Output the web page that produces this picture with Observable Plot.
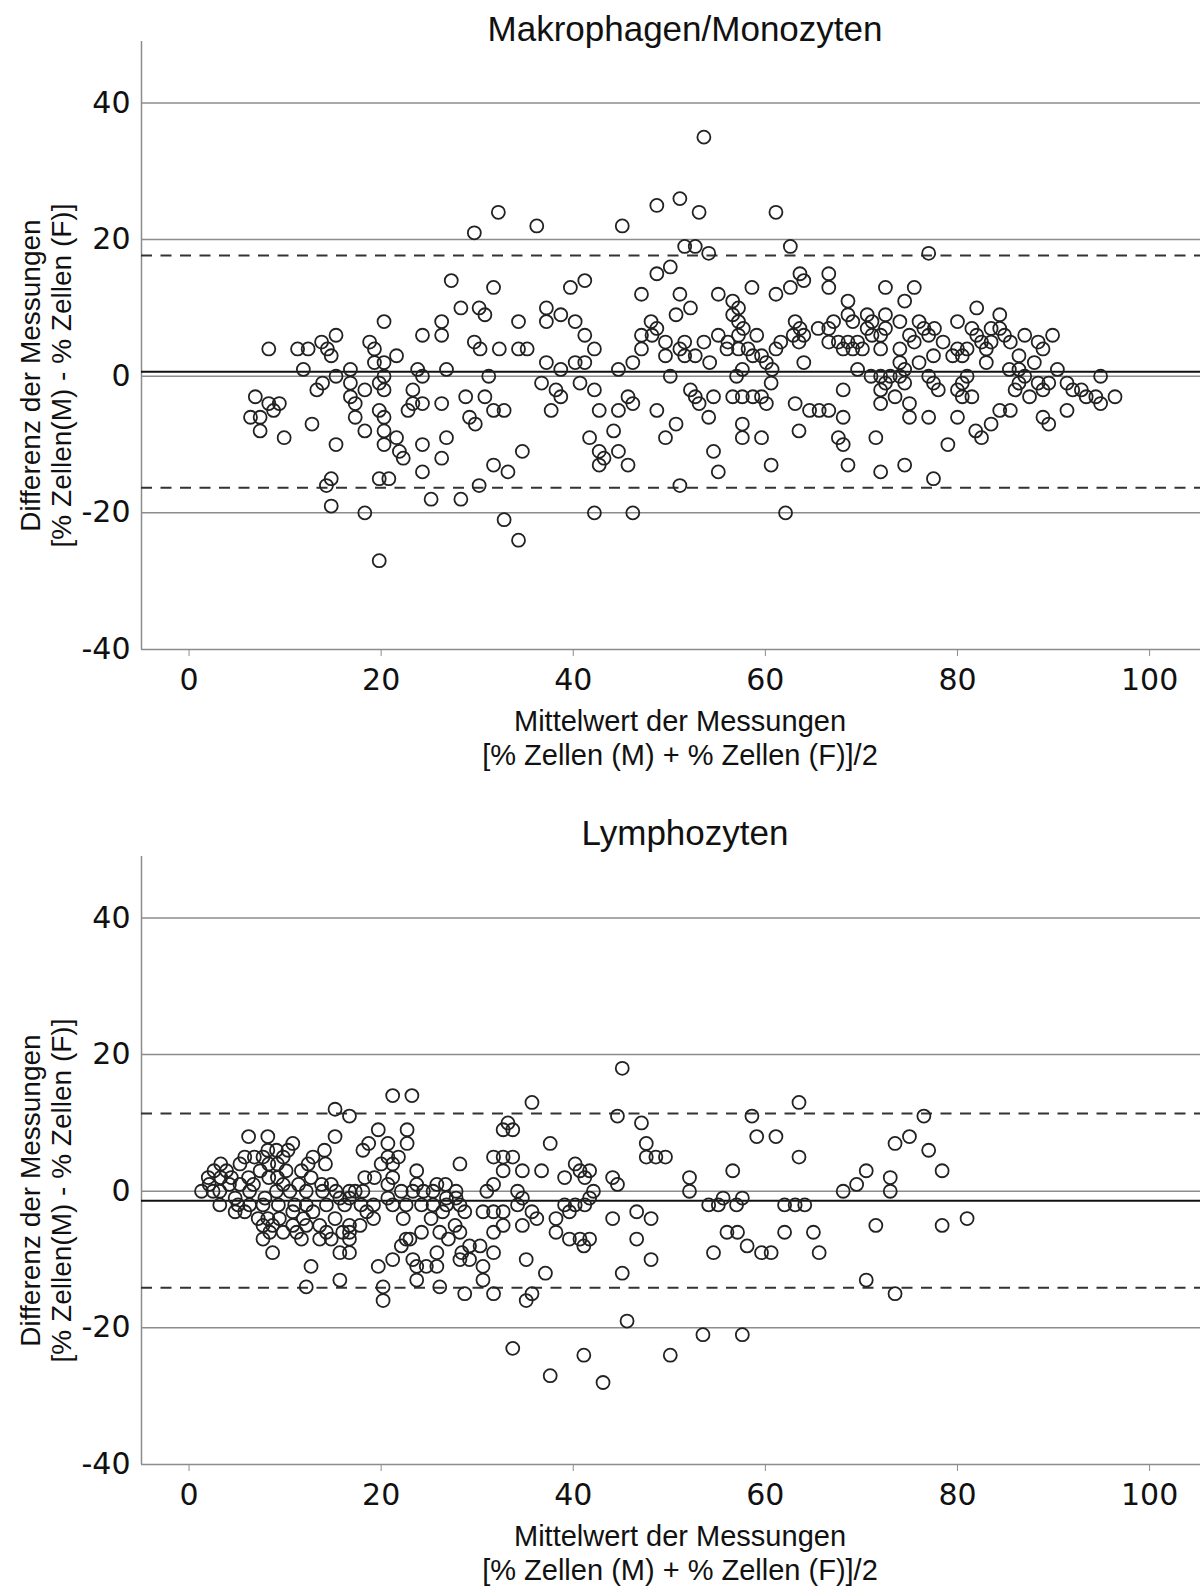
<!DOCTYPE html>
<html><head><meta charset="utf-8">
<script src="https://cdn.jsdelivr.net/npm/d3@7"></script>
<script src="https://cdn.jsdelivr.net/npm/@observablehq/plot@0.6"></script>
<style>
body{margin:0;background:#fff;}
#fig{position:relative;width:1200px;height:1588px;overflow:hidden;font-family:"Liberation Sans",Arial,sans-serif;background:#fff;}
.panel{position:absolute;left:0;width:1200px;}
.title{position:absolute;left:385px;width:600px;text-align:center;font-size:35px;line-height:35px;color:#111;white-space:nowrap;z-index:2;}
</style></head><body>
<div id="fig"></div>
<script>
// ---------- data ----------
const titles = ["Makrophagen/Monozyten", "Lymphozyten"];
const yLabel = "Differenz der Messungen\n[% Zellen(M) - % Zellen (F)]";
const xLabel = "Mittelwert der Messungen\n[% Zellen (M) + % Zellen (F)]/2";
const xTicks = [0, 20, 40, 60, 80, 100];
const yTicks = [-40, -20, 0, 20, 40];
const gridY = [-20, 0, 20, 40];
const xDomain = [-4.95, 105.3];
const yDomain = [-40, 49];

// Makrophagen/Monozyten: [mean, difference]
const makroPoints = [
[8.3,4],[11.3,4],[12.4,4],[11.9,1],[13.8,5],[14.4,4],[14.8,3],[15.3,6],[15.3,0],[13.9,-1],[13.3,-2],[16.8,1],[16.8,-1],[16.8,-3],[17.3,-4],[17.3,-6],[18.3,-2],[18.3,-8],[18.8,5],[19.3,4],[19.3,2],[20.3,8],[20.3,2],[20.3,0],[19.8,-1],[20.3,-2],[19.8,-5],[20.3,-6],[20.3,-8],[20.3,-10],[21.6,3],[21.6,-9],[21.9,-11],[6.9,-3],[8.3,-4],[9.4,-4],[8.8,-5],[6.4,-6],[7.4,-6],[7.4,-8],[9.9,-9],[12.8,-7],[15.3,-10],[14.8,-15],[14.3,-16],[14.8,-19],[18.3,-20],[19.8,-15],[20.8,-15],[19.8,-27],
[32.2,24],[29.7,21],[36.2,22],[27.3,14],[31.7,13],[39.7,13],[41.2,14],[28.3,10],[30.2,10],[30.8,9],[37.2,10],[38.7,9],[37.2,8],[34.3,8],[40.2,8],[26.3,8],[26.3,6],[24.3,6],[41.2,6],[29.7,5],[30.3,4],[32.3,4],[34.3,4],[35.2,4],[37.2,2],[40.2,2],[41.2,2],[38.7,1],[23.8,1],[26.8,1],[24.3,0],[31.2,0],[36.7,-1],[40.7,-1],[23.3,-2],[38.2,-2],[38.7,-3],[23.3,-4],[24.3,-4],[26.3,-4],[28.8,-3],[30.8,-3],[22.8,-5],[31.7,-5],[32.8,-5],[37.7,-5],[29.2,-6],[29.8,-7],[26.8,-9],[24.3,-10],[22.3,-12],[26.3,-12],[34.7,-11],[31.7,-13],[33.2,-14],[24.3,-14],[30.2,-16],[25.2,-18],[28.3,-18],[32.8,-21],[34.3,-24],
[53.6,35],[48.7,25],[51.1,26],[53.1,24],[61.1,24],[45.1,22],[51.6,19],[52.7,19],[54.1,18],[62.6,19],[50.1,16],[48.7,15],[47.1,12],[51.1,12],[55.1,12],[58.6,13],[61.1,12],[62.6,13],[52.2,10],[50.7,9],[56.6,11],[57.2,10],[56.6,9],[57.2,8],[57.7,7],[48.1,8],[48.7,7],[47.1,6],[48.2,6],[42.2,4],[47.1,4],[49.6,5],[49.6,3],[51.6,5],[51.1,4],[51.6,3],[52.7,3],[53.6,5],[55.1,6],[56.1,5],[57.2,6],[57.2,4],[56,4],[58.2,4],[59.1,6],[58.7,3],[59.6,3],[60.1,2],[61.1,4],[61.6,5],[62.9,6],[63.1,8],[63.5,5],[46.2,2],[44.7,1],[54.2,2],[50.1,0],[57,0],[57.6,1],[60.7,1],[60.6,-1],[42.2,-2],[52.2,-2],[52.7,-3],[53.1,-4],[54.6,-3],[56.6,-3],[57.6,-3],[58.7,-3],[59.6,-3],[60.1,-4],[63.1,-4],[45.7,-3],[46.2,-4],[42.7,-5],[44.7,-5],[48.7,-5],[54.1,-6],[50.7,-7],[57.6,-7],[41.7,-9],[44.2,-8],[49.6,-9],[57.6,-9],[59.6,-9],[63.5,-8],[42.7,-11],[44.7,-11],[54.6,-11],[43.2,-12],[42.7,-13],[45.7,-13],[60.6,-13],[55.1,-14],[51.1,-16],[42.2,-20],[46.2,-20],[62.1,-20],
[77.0,18],[63.6,15],[64.0,14],[66.6,15],[66.6,13],[72.5,13],[75.5,13],[68.6,11],[74.5,11],[82.0,10],[65.5,7],[66.6,7],[67.1,8],[68.6,9],[69.1,8],[70.6,9],[71.1,8],[70.6,7],[72.5,9],[72.5,7],[71.1,6],[72.0,6],[74.0,8],[63.6,7],[64.0,6],[64.0,2],[66.6,5],[67.6,5],[68.6,5],[68.1,4],[69.1,4],[69.6,5],[70.1,4],[72.0,4],[75.0,6],[75.5,5],[76.0,8],[76.5,7],[77.0,6],[77.6,7],[74.0,4],[74.0,2],[76.0,2],[77.5,3],[78.5,5],[80.0,8],[79.5,3],[80.0,4],[80.5,3],[81.0,4],[81.5,7],[82.0,6],[82.5,5],[83.0,4],[83.0,2],[83.5,7],[83.5,5],[84.4,9],[84.4,7],[84.9,6],[85.5,5],[87.0,6],[86.4,3],[88.0,2],[88.4,5],[88.9,4],[89.9,6],[69.6,1],[71.0,0],[72.0,0],[73.0,0],[74.0,0],[74.5,1],[74.5,-1],[72.5,-1],[72.0,-2],[68.1,-2],[72.0,-4],[73.5,-3],[75.0,-4],[75.0,-6],[77.0,0],[77.5,-1],[78.0,-2],[77.0,-6],[80.0,-2],[80.5,-1],[81.0,0],[80.5,-3],[81.5,-3],[80.0,-6],[81.9,-8],[82.5,-9],[83.5,-7],[84.4,-5],[85.5,-5],[85.4,1],[86.4,1],[86.4,-1],[87.0,0],[86.0,-2],[87.5,-3],[88.4,-1],[88.9,-2],[89.5,-1],[90.4,1],[88.9,-6],[89.5,-7],[91.4,-1],[91.4,-5],[92.0,-2],[92.9,-2],[93.4,-3],[94.4,-3],[94.9,0],[94.9,-4],[96.4,-3],[64.6,-5],[65.6,-5],[66.6,-5],[68.1,-6],[67.6,-9],[68.1,-10],[71.5,-9],[68.6,-13],[72.0,-14],[74.5,-13],[77.5,-15],[79.0,-10]
];
const makroMean = 0.66;
const makroLimits = [17.66, -16.34];

// Lymphozyten: [mean, difference]
const lymphoPoints = [
[6.2,8],[8.2,8],[10.8,7],[10.3,6],[9.1,6],[8.2,6],[7.7,5],[6.8,5],[5.8,5],[5.3,4],[3.3,4],[2.6,3],[3.9,3],[3.3,2],[2.0,2],[1.3,0],[4.4,2],[6.2,2],[7.4,3],[8.3,4],[9.2,4],[9.8,5],[10.1,3],[9.2,2],[8.3,2],[9.8,1],[5.3,1],[6.7,1],[3.2,0],[4.2,1],[2.1,1],[14.1,6],[12.9,5],[12.4,4],[11.7,3],[12.7,2],[13.8,1],[12.2,0],[11.4,1],
[2.5,0],[4.8,-1],[6.3,0],[7.9,-1],[9.1,0],[10.5,0],[13.9,0],[15.3,0],[16.7,0],[18.1,0],[20.7,-1],[22.1,0],[23.3,0],[24.4,0],[25.4,0],[26.8,-1],[27.8,0],[31.0,0],
[3.2,-2],[5.1,-2],[6.3,-2],[7.7,-2],[9.3,-2],[11.0,-2],[12.2,-2],[14.3,-2],[16.2,-2],[17.9,-2],[19.2,-2],[21.2,-2],[22.6,-2],[24.2,-2],[25.4,-2],[26.8,-2],[28.2,-2],[30.6,-3],
[4.8,-3],[5.8,-3],[7.2,-4],[8.2,-4],[9.4,-4],[10.8,-3],[11.9,-4],[12.9,-3],[15.2,-4],[16.7,-5],[17.8,-5],[19.2,-4],[22.3,-4],[25.2,-4],[26.4,-3],[28.7,-3],
[7.7,-5],[8.7,-5],[9.8,-6],[10.8,-5],[12.2,-5],[13.6,-5],[14.3,-6],[16.0,-6],[16.7,-6],[18.5,-3],
[7.7,-7],[8.4,-6],[11.2,-6],[11.7,-7],[13.6,-7],[14.8,-7],[16.7,-7],[22.6,-7],[24.2,-6],[26.1,-6],[27.0,-7],[27.7,-5],[28.2,-6],[29.2,-8],[30.3,-8],
[8.7,-9],[15.7,-9],[16.7,-9],[22.1,-8],[23.0,-7],[25.8,-9],[28.4,-9],
[21.2,-10],[23.3,-10],[23.7,-11],[24.7,-11],[25.8,-11],[28.2,-10],[29.2,-10],[30.6,-11],
[12.7,-11],[19.7,-11],[15.7,-13],[23.7,-13],[30.6,-13],
[12.2,-14],[20.2,-14],[26.1,-14],[28.7,-15],[20.2,-16],
[21.2,14],[23.2,14],[15.2,12],[16.7,11],[19.7,9],[22.7,9],[22.7,7],[15.2,8],[18.7,7],[18.1,6],[20.7,7],[20.7,5],[21.8,5],[20.0,4],[21.2,4],[14.2,4],[23.7,3],[28.2,4],[18.3,2],[19.3,2],[21.2,2],[14.8,1],[17.3,0],[20.7,1],[23.7,1],[25.8,1],[26.7,1],[15.7,-1],[16.7,-1],[27.8,-1],
[45.1,18],[35.7,13],[44.6,11],[47.1,10],[58.6,11],[59.1,8],[61.1,8],[33.2,10],[32.7,9],[33.7,9],[47.6,7],[47.6,5],[48.6,5],[49.6,5],[37.6,7],[31.7,5],[32.7,5],[33.7,5],[32.7,3],[34.7,3],[36.7,3],[31.7,1],[40.2,4],[40.7,3],[41.7,3],[41.2,2],[39.1,2],[42.1,0],[41.7,-1],[34.2,0],[34.7,-1],[44.1,2],[44.6,1],[52.1,2],[52.1,0],[56.6,3],[34.2,-2],[39.1,-2],[40.2,-2],[41.2,-2],[39.6,-3],[31.7,-3],[32.7,-3],[35.7,-3],[36.2,-4],[38.2,-4],[44.1,-4],[46.6,-3],[48.1,-4],[54.1,-2],[55.1,-2],[55.6,-1],[57.0,-2],[57.6,-1],[62.0,-2],[32.7,-5],[34.7,-5],[31.7,-6],[38.2,-6],[39.6,-7],[40.7,-7],[41.7,-7],[41.1,-8],[46.6,-7],[56.0,-6],[57.1,-6],[58.1,-8],[59.6,-9],[60.6,-9],[62.0,-6],[54.6,-9],[31.7,-9],[35.1,-10],[48.1,-10],[37.1,-12],[45.1,-12],[31.7,-15],[35.7,-15],[35.1,-16],[45.6,-19],[53.5,-21],[57.6,-21],[33.7,-23],[41.1,-24],[50.1,-24],[37.6,-27],[43.1,-28],
[63.5,13],[63.5,5],[76.5,11],[75.0,8],[73.5,7],[77.0,6],[78.4,3],[70.5,3],[69.5,1],[68.1,0],[73.0,2],[73.0,0],[63.1,-2],[64.1,-2],[65.0,-6],[65.6,-9],[71.5,-5],[78.4,-5],[81.0,-4],[70.5,-13],[73.5,-15]
];
const lymphoMean = -1.38;
const lymphoLimits = [11.37, -14.13];

// ---------- drawing ----------
const fig = document.getElementById("fig");
const gray = "#8c8c8c";
const labelFont = "'Liberation Sans', Arial, sans-serif";

function makePanel(points, mean, limits, title, top, titleTop) {
  const wrap = document.createElement("div");
  wrap.className = "panel";
  wrap.style.top = top + "px";
  const chart = Plot.plot({
    width: 1200, height: 773,
    marginTop: 41, marginBottom: 124, marginLeft: 141, marginRight: 0,
    x: {domain: xDomain},
    y: {domain: yDomain},
    style: {fontFamily: "'DejaVu Sans', sans-serif", fontSize: "30px", color: "#111", background: "white", overflow: "visible"},
    marks: [
      Plot.ruleY(gridY, {stroke: gray, strokeWidth: 1.5}),
      Plot.ruleY([yDomain[0]], {stroke: gray, strokeWidth: 1.5}),
      Plot.ruleX([xDomain[0]], {stroke: gray, strokeWidth: 1.5}),
      Plot.ruleY(limits, {stroke: "#333", strokeWidth: 2, strokeDasharray: "11,8.5"}),
      Plot.ruleY([mean], {stroke: "#111", strokeWidth: 2}),
      Plot.dot(points, {x: d => d[0], y: d => d[1], r: 6.5, stroke: "#222", strokeWidth: 1.8, fill: "none"}),
      Plot.axisX(xTicks, {tickSize: 7, tickPadding: 12, stroke: gray, label: null, fontSize: 30, tickFormat: d => `${d}`}),
      Plot.axisY(yTicks, {tickSize: 0, tickPadding: 11, label: null, fontSize: 30, tickFormat: d => `${d}`}),
      Plot.text([yLabel], {frameAnchor: "left", textAnchor: "middle", lineAnchor: "middle", rotate: -90, dx: -96, dy: 30, fontFamily: labelFont, fontSize: 28, lineHeight: 1.09, fill: "#111"}),
      Plot.text([xLabel], {frameAnchor: "bottom", textAnchor: "middle", lineAnchor: "top", dx: 9, dy: 58, fontFamily: labelFont, fontSize: 29, lineHeight: 1.15, fill: "#111"})
    ]
  });
  wrap.appendChild(chart);
  fig.appendChild(wrap);
  const t = document.createElement("div");
  t.className = "title";
  t.style.top = titleTop + "px";
  t.textContent = title;
  fig.appendChild(t);
}

makePanel(makroPoints, makroMean, makroLimits, titles[0], 0, 11);
makePanel(lymphoPoints, lymphoMean, lymphoLimits, titles[1], 815, 815);
</script>
</body></html>
